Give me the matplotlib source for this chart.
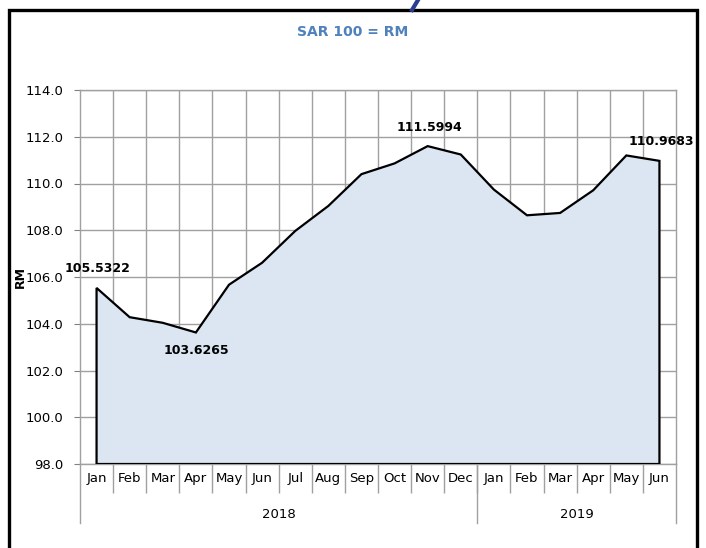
import matplotlib
matplotlib.use("Agg")
import matplotlib.pyplot as plt
import matplotlib.transforms as mtransforms
from matplotlib.patches import Rectangle

# SAR 100 in RM, monthly
months = ["Jan", "Feb", "Mar", "Apr", "May", "Jun", "Jul", "Aug", "Sep", "Oct", "Nov", "Dec",
          "Jan", "Feb", "Mar", "Apr", "May", "Jun"]
years = ["2018", "2019"]
year_counts = [12, 6]
rates = [105.5322, 104.28, 104.04, 103.6265, 105.67, 106.61, 107.97, 109.04, 110.40,
         110.86, 111.5994, 111.24, 109.74, 108.64, 108.74, 109.71, 111.20, 110.9683]
labelled = {0: "above", 3: "below", 10: "above", 17: "above"}

W, H = 706, 548
fig = plt.figure(figsize=(W / 100, H / 100), dpi=100)
plt.rcParams['font.family'] = ['DejaVu Sans']

# plot area in pixels: x 80..676, y 90..464
ax = fig.add_axes([80 / W, (H - 464) / H, 596 / W, 374 / H])

n = len(rates)
x = list(range(n))
poly_x = [x[0]] + x + [x[-1]]
poly_y = [98.0] + rates + [98.0]
ax.fill(poly_x, poly_y, facecolor="#DCE6F2", edgecolor="black", linewidth=1.6, zorder=3)

ax.set_xlim(-0.5, n - 0.5)
ax.set_ylim(98, 114)
ax.set_yticks([98 + 2 * i for i in range(9)])
ax.set_yticklabels(["%.1f" % (98 + 2 * i) for i in range(9)], fontsize=9.5)

ax.set_xticks(x)
ax.set_xticklabels(months, fontsize=9.5)
ax.set_xticks([i + 0.5 for i in range(n - 1)], minor=True)
ax.tick_params(axis="x", which="major", length=0, pad=6)
ax.tick_params(axis="x", which="minor", length=21, color="#A0A0A0", width=1)
ax.tick_params(axis="y", length=4, color="#808080", pad=8)

ax.grid(True, axis="y", color="#A0A0A0", linewidth=1, zorder=0)
ax.grid(True, axis="x", which="minor", color="#A0A0A0", linewidth=1, zorder=0)
for s in ax.spines.values():
    s.set_color("#A0A0A0")
    s.set_linewidth(1)
ax.set_axisbelow(True)

# year row
trans = mtransforms.blended_transform_factory(ax.transData, ax.transAxes)
drop = 59 / 374
bounds = [-0.5]
for c in year_counts:
    bounds.append(bounds[-1] + c)
for b in bounds:
    ax.plot([b, b], [0, -drop], transform=trans, color="#A0A0A0", lw=1, clip_on=False)
for i, yr in enumerate(years):
    ax.text((bounds[i] + bounds[i + 1]) / 2, -50 / 374, yr, transform=trans,
            ha="center", va="center", fontsize=9.5)

# data labels
for i, pos in labelled.items():
    if pos == "below":
        ax.annotate("%.4f" % rates[i], (i, rates[i]), xytext=(0, -8), textcoords="offset points",
                    ha="center", va="top", fontsize=9, fontweight="bold", zorder=5)
    else:
        ax.annotate("%.4f" % rates[i], (i, rates[i]), xytext=(1, 9), textcoords="offset points",
                    ha="center", va="bottom", fontsize=9, fontweight="bold", zorder=5)

ax.set_ylabel("RM", fontsize=9, fontweight="bold", labelpad=-1)

fig.text(353 / W, 1 - 32 / H, "SAR 100 = RM", ha="center", va="center",
         fontsize=10, fontweight="bold", color="#4F81BD")

# outer frame and the stroke above it
fig.patches.append(Rectangle((9 / W, -0.05), (697 - 9) / W, 1.05 - 10 / H,
                             transform=fig.transFigure, fill=False,
                             edgecolor="black", linewidth=2.4, clip_on=False))
fig.lines.append(plt.Line2D([418 / W, 412 / W], [1.0, 1 - 10 / H], transform=fig.transFigure,
                            color="#2B3D8F", linewidth=3))

fig.savefig("out.png", dpi=100)
